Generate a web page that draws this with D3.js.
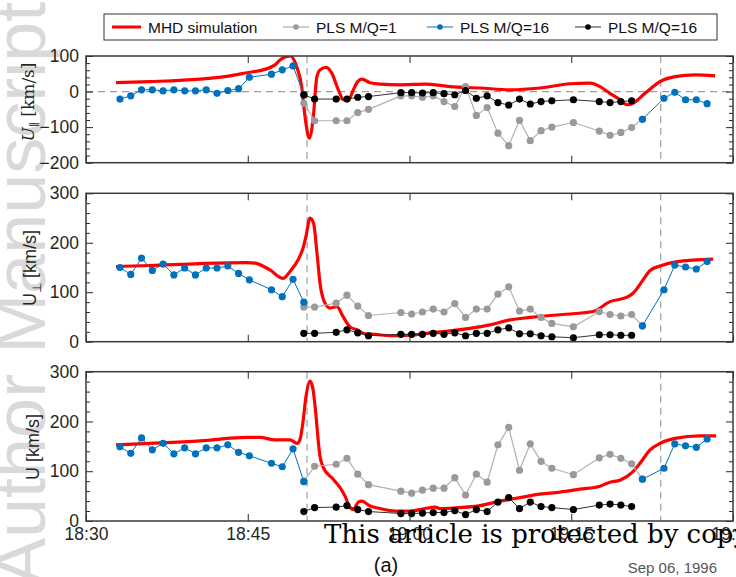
<!DOCTYPE html>
<html>
<head>
<meta charset="utf-8">
<script src="https://cdn.jsdelivr.net/npm/d3@7"></script>
<style>
  body { margin: 0; background: #fff; }
  svg { display: block; font-family: "Liberation Sans", Arial, sans-serif; }
</style>
</head>
<body>
<svg id="chart" width="736" height="577"></svg>
<script>
// times are minutes after 18:30 UT, Sep 06 1996
const mhdParTime = [2.78,5.94,10.57,13.35,14.93,16.14,17.53,17.99,18.92,19.54,20.00,20.31,20.71,21.08,21.40,21.70,22.26,22.79,23.40,23.86,24.33,24.79,25.20,25.57,26.34,27.27,29.12,31.44,33.76,36.54,39.32,42.10,44.88,46.74,47.67,48.59,49.52,50.17,50.73,51.84,53.23,54.63,56.48,58.34];
const mhdPar = [25,28,35,44,53,59,75,89,100,70,14,-70,-131,-70,40,61,68,52,5,-23,-25,5,28,35,25,21,19,21,14,10,5,10,22,24,14,-5,-23,-37,-33,-5,28,42,47,44];

const mhdPerpTime = [2.78,5.94,10.57,14.93,15.67,17.06,18.27,18.92,19.66,20.12,20.40,20.77,21.10,21.42,21.70,22.16,22.63,23.28,23.83,24.48,25.13,25.87,26.80,28.19,30.05,31.90,33.76,35.61,37.47,39.32,41.18,43.03,44.88,47.02,48.59,50.17,50.73,51.66,52.31,53.23,54.81,58.15];
const mhdPerp = [152,154,158,160,159,145,128,142,165,189,213,250,240,179,118,78,68,71,51,30,24,16,15,12,13,18,22,27,34,44,49,53,56,61,81,90,98,125,144,153,162,167];

const mhdTotTime = [2.78,5.94,10.57,14.93,16.14,17.53,18.92,19.57,19.85,20.12,20.40,20.77,21.05,21.24,21.70,22.01,22.93,23.56,24.02,24.48,24.79,25.25,25.57,26.34,27.27,28.66,30.05,31.44,32.37,32.83,34.68,36.54,38.39,40.25,42.10,43.96,45.81,47.67,48.59,49.52,50.73,51.38,52.31,53.23,54.63,56.94,58.43];
const mhdTot = [153,156,161,168,168,163,163,156,164,199,250,281,265,231,130,107,84,67,50,27,23,38,40,30,25,20,20,25,28,25,27,31,40,47,54,58,64,70,78,82,99,116,143,156,166,171,171];

// PLS M/Q=16 upstream/downstream intervals (blue)
const blueTimeA = [3.15,4.15,5.15,6.15,7.15,8.15,9.15,10.15,11.15,12.15,13.15,14.15,15.15,17.2,18.2,19.2,20.2];
const blueTimeB = [51.6,53.6,54.6,55.6,56.6,57.6];
const bluePar = [-21,-12,5,5,2,5,2,2,5,-5,3,8,40,49,61,72,-9];
const bluePerp = [150,136,169,144,157,135,149,135,149,149,153,138,125,105,91,126,80];
const blueTot = [149,136,167,143,156,135,147,135,147,147,153,138,131,116,109,145,79];
const bluePar2 = [-78,-19,-2,-23,-23,-34];
const bluePerp2 = [32,105,155,151,147,162];
const blueTot2 = [84,106,155,151,148,165];

// PLS in the magnetosheath: M/Q=1 (gray) and M/Q=16 (black)
const plsTime = [20.2,21.2,23.2,24.2,25.2,26.2,29.2,30.2,31.2,32.2,33.2,34.2,35.2,36.2,37.2,38.2,39.2,40.2,41.2,42.2,43.2,45.2,47.6,48.6,49.6,50.6];
const grayPar = [-33,-82,-82,-82,-59,-50,-12,-12,-16,-12,-28,-42,14,-67,-45,-117,-152,-81,-138,-110,-100,-87,-111,-123,-115,-101];
const grayPerp = [70,70,78,94,72,53,59,56,60,66,60,77,49,66,66,96,111,62,66,49,37,30,61,55,52,55];
const grayTot = [80,110,114,126,94,73,60,56,62,66,66,87,52,94,78,153,188,102,155,120,106,93,127,134,126,115];
const blackPar = [-9,-21,-21,-21,-16,-14,-3,-3,-4,-3,-6,-9,3,-19,-12,-31,-38,-21,-35,-28,-26,-23,-28,-31,-28,-26];
const blackPerp = [17,17,19,24,18,12,15,15,15,17,15,18,12,17,17,24,28,16,16,12,10,8,14,14,13,13];
const blackTot = [19,27,28,31,23,19,15,15,16,17,17,21,13,23,19,38,47,25,38,29,27,23,32,34,32,29];

const boundaryTimes = [20.5, 53.3];
const legendLabels = ["MHD simulation", "PLS M/Q=1", "PLS M/Q=16", "PLS M/Q=16"];

const colors = {mhd: "#ff0000", gray: "#9a9a9a", blue: "#0072bd", black: "#000"};
const axisColor = "#262626";

const base = new Date(1996, 8, 6, 18, 30);
const toDate = m => new Date(base.getTime() + m * 60000);
const zip = (t, v) => t.map((d, i) => ({t: toDate(d), v: v[i]}));

const svg = d3.select("#chart");
svg.append("rect").attr("width", 736).attr("height", 577).attr("fill", "#fff");

// side watermark
svg.append("text")
  .attr("transform", "translate(45,586) rotate(-90)")
  .attr("font-size", 72)
  .attr("fill", "#d9d9d9")
  .text("Author Manuscript");

const x = d3.scaleTime().domain([toDate(0), toDate(60)]).range([86, 733]);

const panels = [
  {domain: [-200, 100], y0: 56, y1: 162.7, mhdT: mhdParTime, mhd: mhdPar,
   blueA: bluePar, blueB: bluePar2, gray: grayPar, black: blackPar, zero: true},
  {domain: [0, 300], y0: 193.3, y1: 341.7, mhdT: mhdPerpTime, mhd: mhdPerp,
   blueA: bluePerp, blueB: bluePerp2, gray: grayPerp, black: blackPerp},
  {domain: [0, 300], y0: 371.7, y1: 521, mhdT: mhdTotTime, mhd: mhdTot,
   blueA: blueTot, blueB: blueTot2, gray: grayTot, black: blackTot, xlabels: true}
];

panels.forEach((p, idx) => {
  const y = d3.scaleLinear().domain(p.domain).range([p.y1, p.y0]);
  const g = svg.append("g");
  const clipId = "clip" + idx;
  g.append("clipPath").attr("id", clipId).append("rect")
    .attr("x", 86).attr("y", p.y0).attr("width", 733 - 86).attr("height", p.y1 - p.y0);

  const plot = g.append("g").attr("clip-path", `url(#${clipId})`);

  if (p.zero) {
    plot.append("line")
      .attr("x1", 86).attr("x2", 733).attr("y1", y(0)).attr("y2", y(0))
      .attr("stroke", "#9c9c9c").attr("stroke-dasharray", "7,5").attr("stroke-width", 1.2);
  }
  boundaryTimes.forEach(b => {
    plot.append("line")
      .attr("x1", x(toDate(b))).attr("x2", x(toDate(b)))
      .attr("y1", p.y0).attr("y2", p.y1)
      .attr("stroke", "#8c8c8c").attr("stroke-dasharray", "7,5").attr("stroke-width", 1);
  });

  const line = d3.line().x(d => x(d.t)).y(d => y(d.v));

  // MHD
  plot.append("path")
    .datum(zip(p.mhdT, p.mhd))
    .attr("fill", "none").attr("stroke", colors.mhd).attr("stroke-width", 3.2)
    .attr("stroke-linejoin", "round")
    .attr("d", line.curve(d3.curveMonotoneX));

  const simple = d3.line().x(d => x(d.t)).y(d => y(d.v));

  function series(data, color, lineColor, lw) {
    plot.append("path").datum(data)
      .attr("fill", "none").attr("stroke", lineColor).attr("stroke-width", lw)
      .attr("d", simple);
    plot.append("g").selectAll("circle").data(data).join("circle")
      .attr("cx", d => x(d.t)).attr("cy", d => y(d.v)).attr("r", 3.6)
      .attr("fill", color);
  }

  // gray series connects onto the first downstream blue point
  const grayData = zip(plsTime, p.gray).concat(zip([blueTimeB[0]], [p.blueB[0]]));
  series(grayData, colors.gray, "#b0b0b0", 1.2);
  series(zip(blueTimeA, p.blueA), colors.blue, colors.blue, 1);
  series(zip(blueTimeB, p.blueB), colors.blue, colors.blue, 1);
  series(zip(plsTime, p.black), colors.black, "#333", 1);

  // axes
  const ticks = d3.range(p.domain[0], p.domain[1] + 1, 100);
  const minor = d3.range(p.domain[0], p.domain[1] + 1, 20).filter(v => v % 100 !== 0);
  const xticks = d3.timeMinute.every(15).range(toDate(0), toDate(60.01));

  const styleAxis = sel => {
    sel.select(".domain").remove();
    sel.selectAll("line").attr("stroke", axisColor);
    sel.selectAll("text").attr("fill", axisColor).attr("font-size", 17.5)
      .attr("font-family", '"Liberation Sans", Arial, sans-serif');
  };

  g.append("g").attr("transform", "translate(86,0)")
    .call(d3.axisLeft(y).tickValues(ticks).tickSize(-7).tickPadding(7).tickFormat(d3.format("d")))
    .call(styleAxis);
  g.append("g").attr("transform", "translate(86,0)")
    .call(d3.axisLeft(y).tickValues(minor).tickSize(-4).tickFormat(""))
    .call(styleAxis);
  g.append("g").attr("transform", "translate(733,0)")
    .call(d3.axisRight(y).tickValues(ticks).tickSize(-7).tickFormat(""))
    .call(styleAxis);
  g.append("g").attr("transform", "translate(733,0)")
    .call(d3.axisRight(y).tickValues(minor).tickSize(-4).tickFormat(""))
    .call(styleAxis);
  g.append("g").attr("transform", `translate(0,${p.y0})`)
    .call(d3.axisTop(x).tickValues(xticks).tickSize(-7).tickFormat(""))
    .call(styleAxis);
  g.append("g").attr("transform", `translate(0,${p.y1})`)
    .call(d3.axisBottom(x).tickValues(xticks).tickSize(-7).tickPadding(7)
      .tickFormat(p.xlabels ? d3.timeFormat("%H:%M") : ""))
    .call(styleAxis);

  g.append("rect")
    .attr("x", 86).attr("y", p.y0).attr("width", 733 - 86).attr("height", p.y1 - p.y0)
    .attr("fill", "none").attr("stroke", "#3a3a3a").attr("stroke-width", 1.5);
});

// y labels
const ylab1 = svg.append("text")
  .attr("transform", "translate(34,102) rotate(-90)")
  .attr("text-anchor", "middle").attr("fill", axisColor)
  .style("font-family", '"DejaVu Serif", "Liberation Serif", serif').attr("font-size", 17);
ylab1.append("tspan").attr("font-style", "italic").text("U");
ylab1.append("tspan").attr("font-size", 11).attr("dy", 4).text("\u2225");
ylab1.append("tspan").attr("dy", -4).text(" [km/s]");

const ylab2 = svg.append("text")
  .attr("transform", "translate(36,268) rotate(-90)")
  .attr("text-anchor", "middle").attr("fill", axisColor).attr("font-size", 18);
ylab2.append("tspan").text("U");
ylab2.append("tspan").attr("font-size", 12).attr("dy", 5).text("\u22A5");
ylab2.append("tspan").attr("dy", -5).text(" [km/s]");

svg.append("text")
  .attr("transform", "translate(39,447) rotate(-90)")
  .attr("text-anchor", "middle").attr("fill", axisColor).attr("font-size", 18)
  .text("U [km/s]");

// legend
const lg = svg.append("g");
lg.append("rect").attr("x", 104).attr("y", 14).attr("width", 613).attr("height", 26)
  .attr("fill", "#fff").attr("stroke", "#333").attr("stroke-width", 1);
const legendItems = [
  {x: 112, color: colors.mhd, lw: 3, dot: false, line: colors.mhd},
  {x: 283, color: colors.gray, lw: 1.2, dot: true, line: "#b0b0b0"},
  {x: 427, color: colors.blue, lw: 1, dot: true, line: colors.blue},
  {x: 575, color: colors.black, lw: 1, dot: true, line: "#333"}
];
legendItems.forEach((it, i) => {
  const w = i === 0 ? 29 : 26;
  lg.append("line").attr("x1", it.x).attr("x2", it.x + w).attr("y1", 27).attr("y2", 27)
    .attr("stroke", it.line).attr("stroke-width", it.lw);
  if (it.dot) lg.append("circle").attr("cx", it.x + w / 2).attr("cy", 27).attr("r", 2.8).attr("fill", it.color);
  lg.append("text").attr("x", it.x + w + 7).attr("y", 32.5)
    .attr("font-size", 15.5).attr("fill", "#111").text(legendLabels[i]);
});

// bottom texts
svg.append("text").attr("x", 386).attr("y", 572).attr("text-anchor", "middle")
  .attr("font-size", 20).attr("fill", "#111").text("(a)");
svg.append("text").attr("x", 717).attr("y", 573).attr("text-anchor", "end")
  .attr("font-size", 15).attr("fill", "#555").text("Sep 06, 1996");

// copyright watermark
svg.append("text").attr("x", 324).attr("y", 543)
  .style("font-family", '"DejaVu Serif", "Liberation Serif", serif').attr("font-size", 26)
  .attr("fill", "#000")
  .text("This article is protected by copyright. All rights reserved");
</script>
</body>
</html>
